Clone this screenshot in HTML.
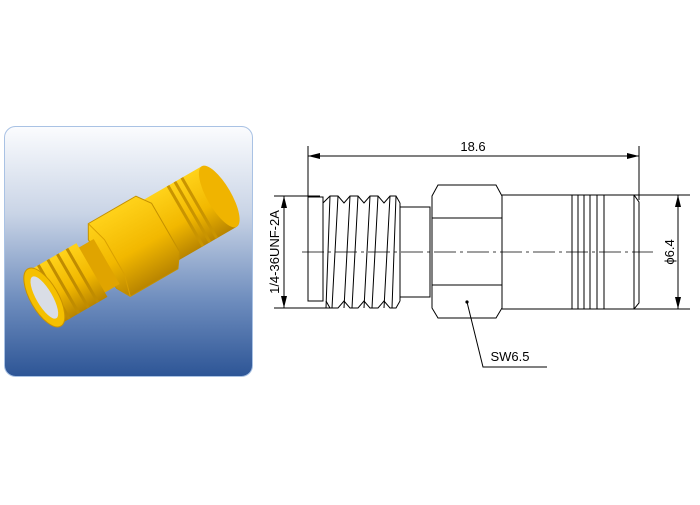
<!DOCTYPE html>
<html><head><style>
body{margin:0;background:#fff;width:700px;height:500px;overflow:hidden;font-family:"Liberation Sans",sans-serif}
</style></head><body>
<svg width="700" height="500" viewBox="0 0 700 500" xmlns="http://www.w3.org/2000/svg">
<defs>
<linearGradient id="bg" x1="0" y1="0" x2="0" y2="1">
<stop offset="0" stop-color="#fbfcfe"/><stop offset="0.35" stop-color="#c9d4e6"/><stop offset="0.7" stop-color="#6d8cbd"/><stop offset="1" stop-color="#2d5596"/></linearGradient>
<linearGradient id="gold" x1="0" y1="0" x2="0" y2="1">
<stop offset="0" stop-color="#ffd21a"/><stop offset="0.55" stop-color="#f2b800"/><stop offset="1" stop-color="#b88400"/></linearGradient>
</defs>
<rect x="4.5" y="126.5" width="248" height="250" rx="11" fill="url(#bg)" stroke="#a9c2e4"/>
<!-- 3D connector -->
<g transform="translate(40 300) rotate(-30)">
<rect x="135" y="-35" width="72" height="70" fill="url(#gold)"/>
<ellipse cx="207" cy="0" rx="12" ry="35" fill="#f0b400"/>
<path d="M168 -35v70 M176 -35v70 M184 -35v70" stroke="#c99400" stroke-width="3"/>
<polygon points="80,-42 135,-42 145,-28 145,28 135,42 80,42 72,28 72,-28" fill="url(#gold)" stroke="#c49000"/>
<path d="M80 -42 L86 -20 V20 L80 42" fill="none" stroke="#d9a000"/>
<rect x="55" y="-26" width="22" height="52" fill="#e0a400"/>
<rect x="5" y="-31" width="55" height="62" fill="url(#gold)"/>
<path d="M16 -31v62 M27 -31v62 M38 -31v62 M49 -31v62" stroke="#c08c00" stroke-width="3"/>
<ellipse cx="5" cy="0" rx="14" ry="33" fill="#f5c000" stroke="#c99200"/>
<ellipse cx="5" cy="0" rx="8" ry="24" fill="#d9dde6"/>
</g>
<!-- drawing -->
<g stroke="#000" stroke-width="1" fill="none">
<path d="M308 146V200 M639 146V200 M308 156H639"/>
<path d="M274 196H320 M274 308H330 M284 196V308"/>
<path d="M630 195H690 M630 309H690 M678 195V309"/>
<path d="M308 197H323V301H308Z"/>
<!-- threads -->
<path d="M323 203L330 196H338L344 203L350 196H358L364 203L370 196H378L384 203L390 196H396L400 203"/>
<path d="M326 301L330 308H338L344 301L350 308H358L364 301L370 308H378L384 301L390 308H396L400 301"/>
<path d="M323 203V301 M400 203V301"/>
<path d="M330 196L326 308 M338 196L332 308 M350 196L344 308 M358 196L352 308 M370 196L364 308 M378 196L372 308 M390 196L384 308 M396 196L392 308"/>
<path d="M400 207H430V297H400Z"/>
<path d="M438 185H496L502 196V308L496 318H438L432 308V196Z"/>
<path d="M432 196V308 M432 218H502 M432 285H502"/>
<path d="M502 195H634L639 202V303L634 309H502"/>
<path d="M572 195V309 M578 195V309 M584 195V309 M590 195V309 M597 195V309 M604 195V309 M634 195V309"/>
<path d="M467 302L483 367H547"/>
<path d="M302 252H653" stroke-dasharray="22,4,3,4" stroke-width="0.8"/>
</g>
<g fill="#000">
<polygon points="308,156 320,153 320,159"/><polygon points="639,156 627,153 627,159"/>
<polygon points="284,196 281,208 287,208"/><polygon points="284,308 281,296 287,296"/>
<polygon points="678,195 675,207 681,207"/><polygon points="678,309 675,297 681,297"/>
<circle cx="467" cy="302" r="1.6"/>
</g>
<g font-size="13" fill="#000">
<text x="473" y="151" text-anchor="middle">18.6</text>
<text x="510" y="361" text-anchor="middle">SW6.5</text>
<text transform="translate(279 252) rotate(-90)" text-anchor="middle">1/4-36UNF-2A</text>
<text transform="translate(674 252) rotate(-90)" text-anchor="middle">ϕ6.4</text>
</g>
</svg>
</body></html>
